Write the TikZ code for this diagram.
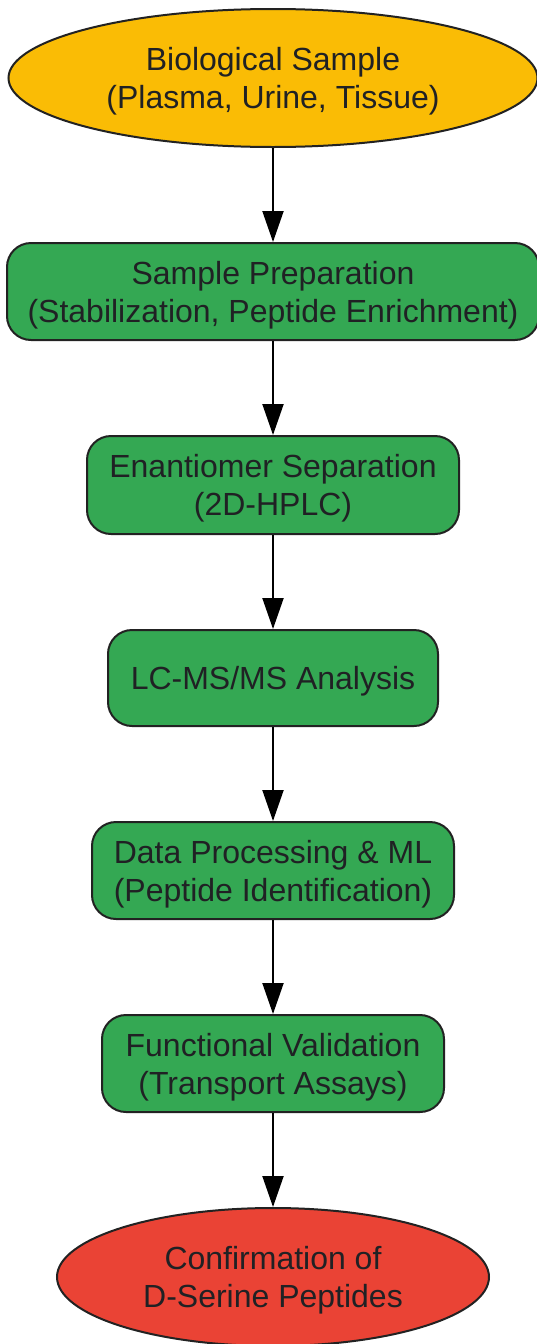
\documentclass[tikz,border=0pt]{standalone}
\usepackage{fontspec}
\setmainfont{Liberation Sans}
\usetikzlibrary{arrows.meta,shapes.geometric}
\definecolor{gyellow}{HTML}{FABC05}
\definecolor{ggreen}{HTML}{34A853}
\definecolor{gred}{HTML}{EA4335}
\definecolor{edge}{HTML}{222222}
\definecolor{txt}{HTML}{202124}
\begin{document}
\begin{tikzpicture}[x=1pt,y=-1pt,
  base/.style={draw=edge, line width=2pt, inner sep=0pt},
  oval/.style={base, ellipse},
  stepbox/.style={base, rectangle, rounded corners=24pt, fill=ggreen},
  lbl/.style={text=txt, align=center, inner sep=0pt, font=\fontsize{32}{38}\selectfont, yshift=-3.5pt},
  conn/.style={line width=2pt, draw=black, -{Triangle[length=31pt,width=21pt]}}
]
\useasboundingbox (0,0) rectangle (537,1344);
\node[oval, fill=gyellow, minimum width=529pt, minimum height=138pt] (s) at (273,78) {};
\node[lbl] (st) at (s.center) {Biological Sample\\(Plasma, Urine, Tissue)};
\node[stepbox, minimum width=532pt, minimum height=97pt] (b1) at (273,291.5) {};
\node[lbl] (b1t) at (b1.center) {Sample Preparation\\(Stabilization, Peptide Enrichment)};
\node[stepbox, minimum width=372pt, minimum height=98pt] (b2) at (273,485) {};
\node[lbl] (b2t) at (b2.center) {Enantiomer Separation\\(2D-HPLC)};
\node[stepbox, minimum width=330pt, minimum height=96pt] (b3) at (273,678) {};
\node[lbl] (b3t) at (b3.center) {LC-MS/MS Analysis};
\node[stepbox, minimum width=362pt, minimum height=97pt] (b4) at (273,870.5) {};
\node[lbl] (b4t) at (b4.center) {Data Processing \& ML\\(Peptide Identification)};
\node[stepbox, minimum width=342pt, minimum height=97pt] (b5) at (273,1063.5) {};
\node[lbl] (b5t) at (b5.center) {Functional Validation\\(Transport Assays)};
\node[oval, fill=gred, minimum width=432pt, minimum height=138pt] (e) at (273,1277) {};
\node[lbl] (et) at (e.center) {Confirmation of\\D-Serine Peptides};
\draw[conn] (s) -- (b1);
\draw[conn] (b1) -- (b2);
\draw[conn] (b2) -- (b3);
\draw[conn] (b3) -- (b4);
\draw[conn] (b4) -- (b5);
\draw[conn] (b5) -- (e);
\end{tikzpicture}
\end{document}
